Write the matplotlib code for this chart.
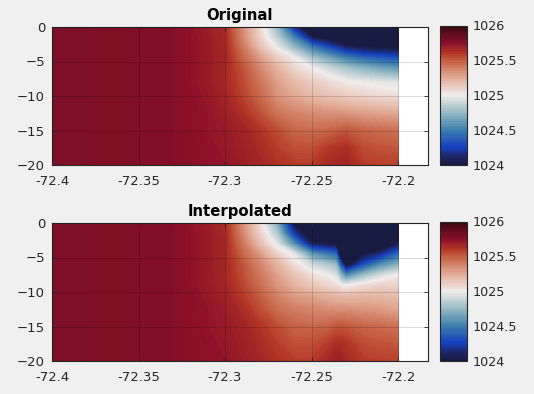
import numpy as np
import matplotlib
matplotlib.use('Agg')
import matplotlib.pyplot as plt
from matplotlib.colors import LinearSegmentedColormap, Normalize
from matplotlib.cm import ScalarMappable

# Долготы и глубины
lon_orig = [-72.40, -72.33, -72.31, -72.30, -72.29, -72.28, -72.27, -72.26, -72.25, -72.24, -72.23, -72.22, -72.21, -72.20]
depth_orig = [0, -1.5, -3, -4.5, -6, -8, -10, -12.5, -15, -17.5, -20]
dens_orig = [
    [1025.80, 1025.77, 1025.70, 1025.65, 1025.35, 1025.07, 1024.75, 1024.15, 1023.70, 1023.70, 1023.70, 1023.70, 1023.70, 1023.70],
    [1025.80, 1025.77, 1025.71, 1025.65, 1025.37, 1025.10, 1024.85, 1024.50, 1024.05, 1023.90, 1023.80, 1023.80, 1023.80, 1023.80],
    [1025.80, 1025.77, 1025.71, 1025.66, 1025.42, 1025.18, 1024.98, 1024.75, 1024.50, 1024.30, 1024.10, 1024.03, 1024.00, 1024.00],
    [1025.80, 1025.77, 1025.71, 1025.66, 1025.48, 1025.30, 1025.12, 1025.00, 1024.80, 1024.65, 1024.50, 1024.40, 1024.35, 1024.30],
    [1025.80, 1025.77, 1025.71, 1025.66, 1025.53, 1025.37, 1025.22, 1025.08, 1025.00, 1024.90, 1024.80, 1024.72, 1024.65, 1024.60],
    [1025.80, 1025.77, 1025.71, 1025.66, 1025.56, 1025.43, 1025.29, 1025.19, 1025.12, 1025.07, 1025.01, 1024.98, 1024.96, 1024.95],
    [1025.80, 1025.77, 1025.72, 1025.67, 1025.58, 1025.47, 1025.33, 1025.26, 1025.20, 1025.16, 1025.12, 1025.10, 1025.07, 1025.05],
    [1025.80, 1025.77, 1025.73, 1025.69, 1025.63, 1025.54, 1025.43, 1025.38, 1025.35, 1025.33, 1025.32, 1025.29, 1025.27, 1025.25],
    [1025.80, 1025.77, 1025.73, 1025.71, 1025.68, 1025.62, 1025.55, 1025.48, 1025.46, 1025.48, 1025.52, 1025.48, 1025.46, 1025.44],
    [1025.80, 1025.77, 1025.74, 1025.72, 1025.69, 1025.65, 1025.59, 1025.54, 1025.54, 1025.60, 1025.64, 1025.55, 1025.53, 1025.52],
    [1025.80, 1025.77, 1025.74, 1025.73, 1025.70, 1025.67, 1025.63, 1025.60, 1025.60, 1025.66, 1025.68, 1025.60, 1025.59, 1025.58],
]

lon_interp = [-72.40, -72.33, -72.31, -72.30, -72.29, -72.28, -72.27, -72.26, -72.25, -72.24, -72.236, -72.233, -72.23, -72.22, -72.21, -72.20]
depth_interp = [0, -1.5, -3, -4.5, -6, -7.5, -9, -10.5, -12.5, -15, -17.5, -20]
dens_interp = [
    [1025.80, 1025.77, 1025.70, 1025.65, 1025.35, 1025.05, 1024.70, 1023.95, 1023.70, 1023.70, 1023.70, 1023.70, 1023.70, 1023.70, 1023.70, 1023.70],
    [1025.80, 1025.77, 1025.71, 1025.65, 1025.37, 1025.10, 1024.82, 1024.20, 1023.85, 1023.80, 1023.75, 1023.70, 1023.70, 1023.70, 1023.70, 1023.70],
    [1025.80, 1025.77, 1025.71, 1025.66, 1025.42, 1025.18, 1024.95, 1024.55, 1024.05, 1024.00, 1023.98, 1023.75, 1023.70, 1023.70, 1023.70, 1024.05],
    [1025.80, 1025.77, 1025.71, 1025.66, 1025.48, 1025.30, 1025.10, 1024.95, 1024.60, 1024.45, 1024.40, 1023.75, 1023.70, 1024.00, 1024.15, 1024.40],
    [1025.80, 1025.77, 1025.71, 1025.66, 1025.53, 1025.37, 1025.22, 1025.05, 1024.90, 1024.80, 1024.75, 1024.30, 1023.90, 1024.30, 1024.55, 1024.70],
    [1025.80, 1025.77, 1025.71, 1025.66, 1025.55, 1025.42, 1025.28, 1025.15, 1025.05, 1024.98, 1024.93, 1024.70, 1024.50, 1024.75, 1024.90, 1025.00],
    [1025.80, 1025.77, 1025.71, 1025.67, 1025.57, 1025.45, 1025.32, 1025.22, 1025.14, 1025.08, 1025.05, 1025.00, 1024.98, 1025.05, 1025.10, 1025.10],
    [1025.80, 1025.77, 1025.72, 1025.68, 1025.60, 1025.50, 1025.38, 1025.30, 1025.26, 1025.22, 1025.20, 1025.19, 1025.18, 1025.20, 1025.20, 1025.18],
    [1025.80, 1025.77, 1025.73, 1025.70, 1025.64, 1025.55, 1025.45, 1025.40, 1025.37, 1025.35, 1025.34, 1025.34, 1025.34, 1025.32, 1025.30, 1025.27],
    [1025.80, 1025.77, 1025.73, 1025.71, 1025.68, 1025.62, 1025.55, 1025.49, 1025.47, 1025.49, 1025.52, 1025.53, 1025.52, 1025.48, 1025.46, 1025.44],
    [1025.80, 1025.77, 1025.74, 1025.72, 1025.69, 1025.65, 1025.59, 1025.54, 1025.54, 1025.60, 1025.64, 1025.64, 1025.62, 1025.55, 1025.53, 1025.52],
    [1025.80, 1025.77, 1025.74, 1025.73, 1025.70, 1025.67, 1025.63, 1025.60, 1025.60, 1025.67, 1025.70, 1025.69, 1025.66, 1025.60, 1025.59, 1025.58],
]

x_ticks = [-72.4, -72.35, -72.3, -72.25, -72.2]
x_labels = ['-72.4', '-72.35', '-72.3', '-72.25', '-72.2']
y_ticks = [-20, -15, -10, -5, 0]
cbar_ticks = [1024, 1024.5, 1025, 1025.5, 1026]
cbar_labels = ['1024', '1024.5', '1025', '1025.5', '1026']

colors = [
    (0.00, (24/255, 28/255, 67/255)),
    (0.06, (30/255, 40/255, 110/255)),
    (0.125, (20/255, 65/255, 190/255)),
    (0.25, (62/255, 128/255, 172/255)),
    (0.375, (150/255, 186/255, 196/255)),
    (0.50, (241/255, 236/255, 235/255)),
    (0.625, (226/255, 172/255, 152/255)),
    (0.75, (197/255, 96/255, 66/255)),
    (0.81, (178/255, 52/255, 36/255)),
    (0.875, (140/255, 16/255, 42/255)),
    (1.00, (60/255, 9/255, 18/255)),
]
balance_fine = LinearSegmentedColormap.from_list('balance_fine', colors, N=256)
balance_bar = LinearSegmentedColormap.from_list('balance_bar', colors, N=64)

W, H = 534, 394
bg = '#f0f0f0'
dark = '#262626'
plt.rcParams['font.family'] = 'DejaVu Sans'

fig = plt.figure(figsize=(W/100, H/100), dpi=100, facecolor=bg)
levels = np.linspace(1024, 1026, 201)


def draw_panel(top, bottom, lon, depth, dens, title):
    ax = fig.add_axes([52/W, 1-bottom/H, (427.5-52)/W, (bottom-top)/H])
    ax.contourf(lon, depth, dens, levels=levels, cmap=balance_fine, extend='both')
    ax.set_xlim(-72.4, -72.183)
    ax.set_ylim(-20, 0)
    ax.set_xticks(x_ticks, x_labels)
    ax.set_yticks(y_ticks)
    ax.tick_params(direction='in', length=3, width=0.6, top=True, right=True,
                   labelsize=9.5, colors=dark)
    ax.tick_params(axis='x', pad=7)
    ax.tick_params(axis='y', pad=5)
    ax.grid(True, color='k', alpha=0.15, lw=0.7)
    ax.set_axisbelow(False)
    for s in ax.spines.values():
        s.set_linewidth(0.8)
        s.set_color(dark)
    ax.set_title(title, fontsize=10.7, fontweight='bold', color='k', pad=5)

    # у каждой колорбары своя нормировка, иначе подписи сбрасываются
    norm = Normalize(1024, 1026)
    cax = fig.add_axes([440/W, 1-bottom/H, 27/W, (bottom-top+1.5)/H])
    cb = fig.colorbar(ScalarMappable(norm=norm, cmap=balance_bar), cax=cax)
    cb.set_ticks(cbar_ticks, labels=cbar_labels)
    cax.tick_params(length=0, labelsize=9.2, colors=dark, pad=4)
    cb.outline.set_linewidth(0.8)
    cb.outline.set_edgecolor(dark)


draw_panel(27, 165, lon_orig, depth_orig, dens_orig, 'Original')
draw_panel(223, 361, lon_interp, depth_interp, dens_interp, 'Interpolated')

fig.savefig('out.png', dpi=100, facecolor=bg)
